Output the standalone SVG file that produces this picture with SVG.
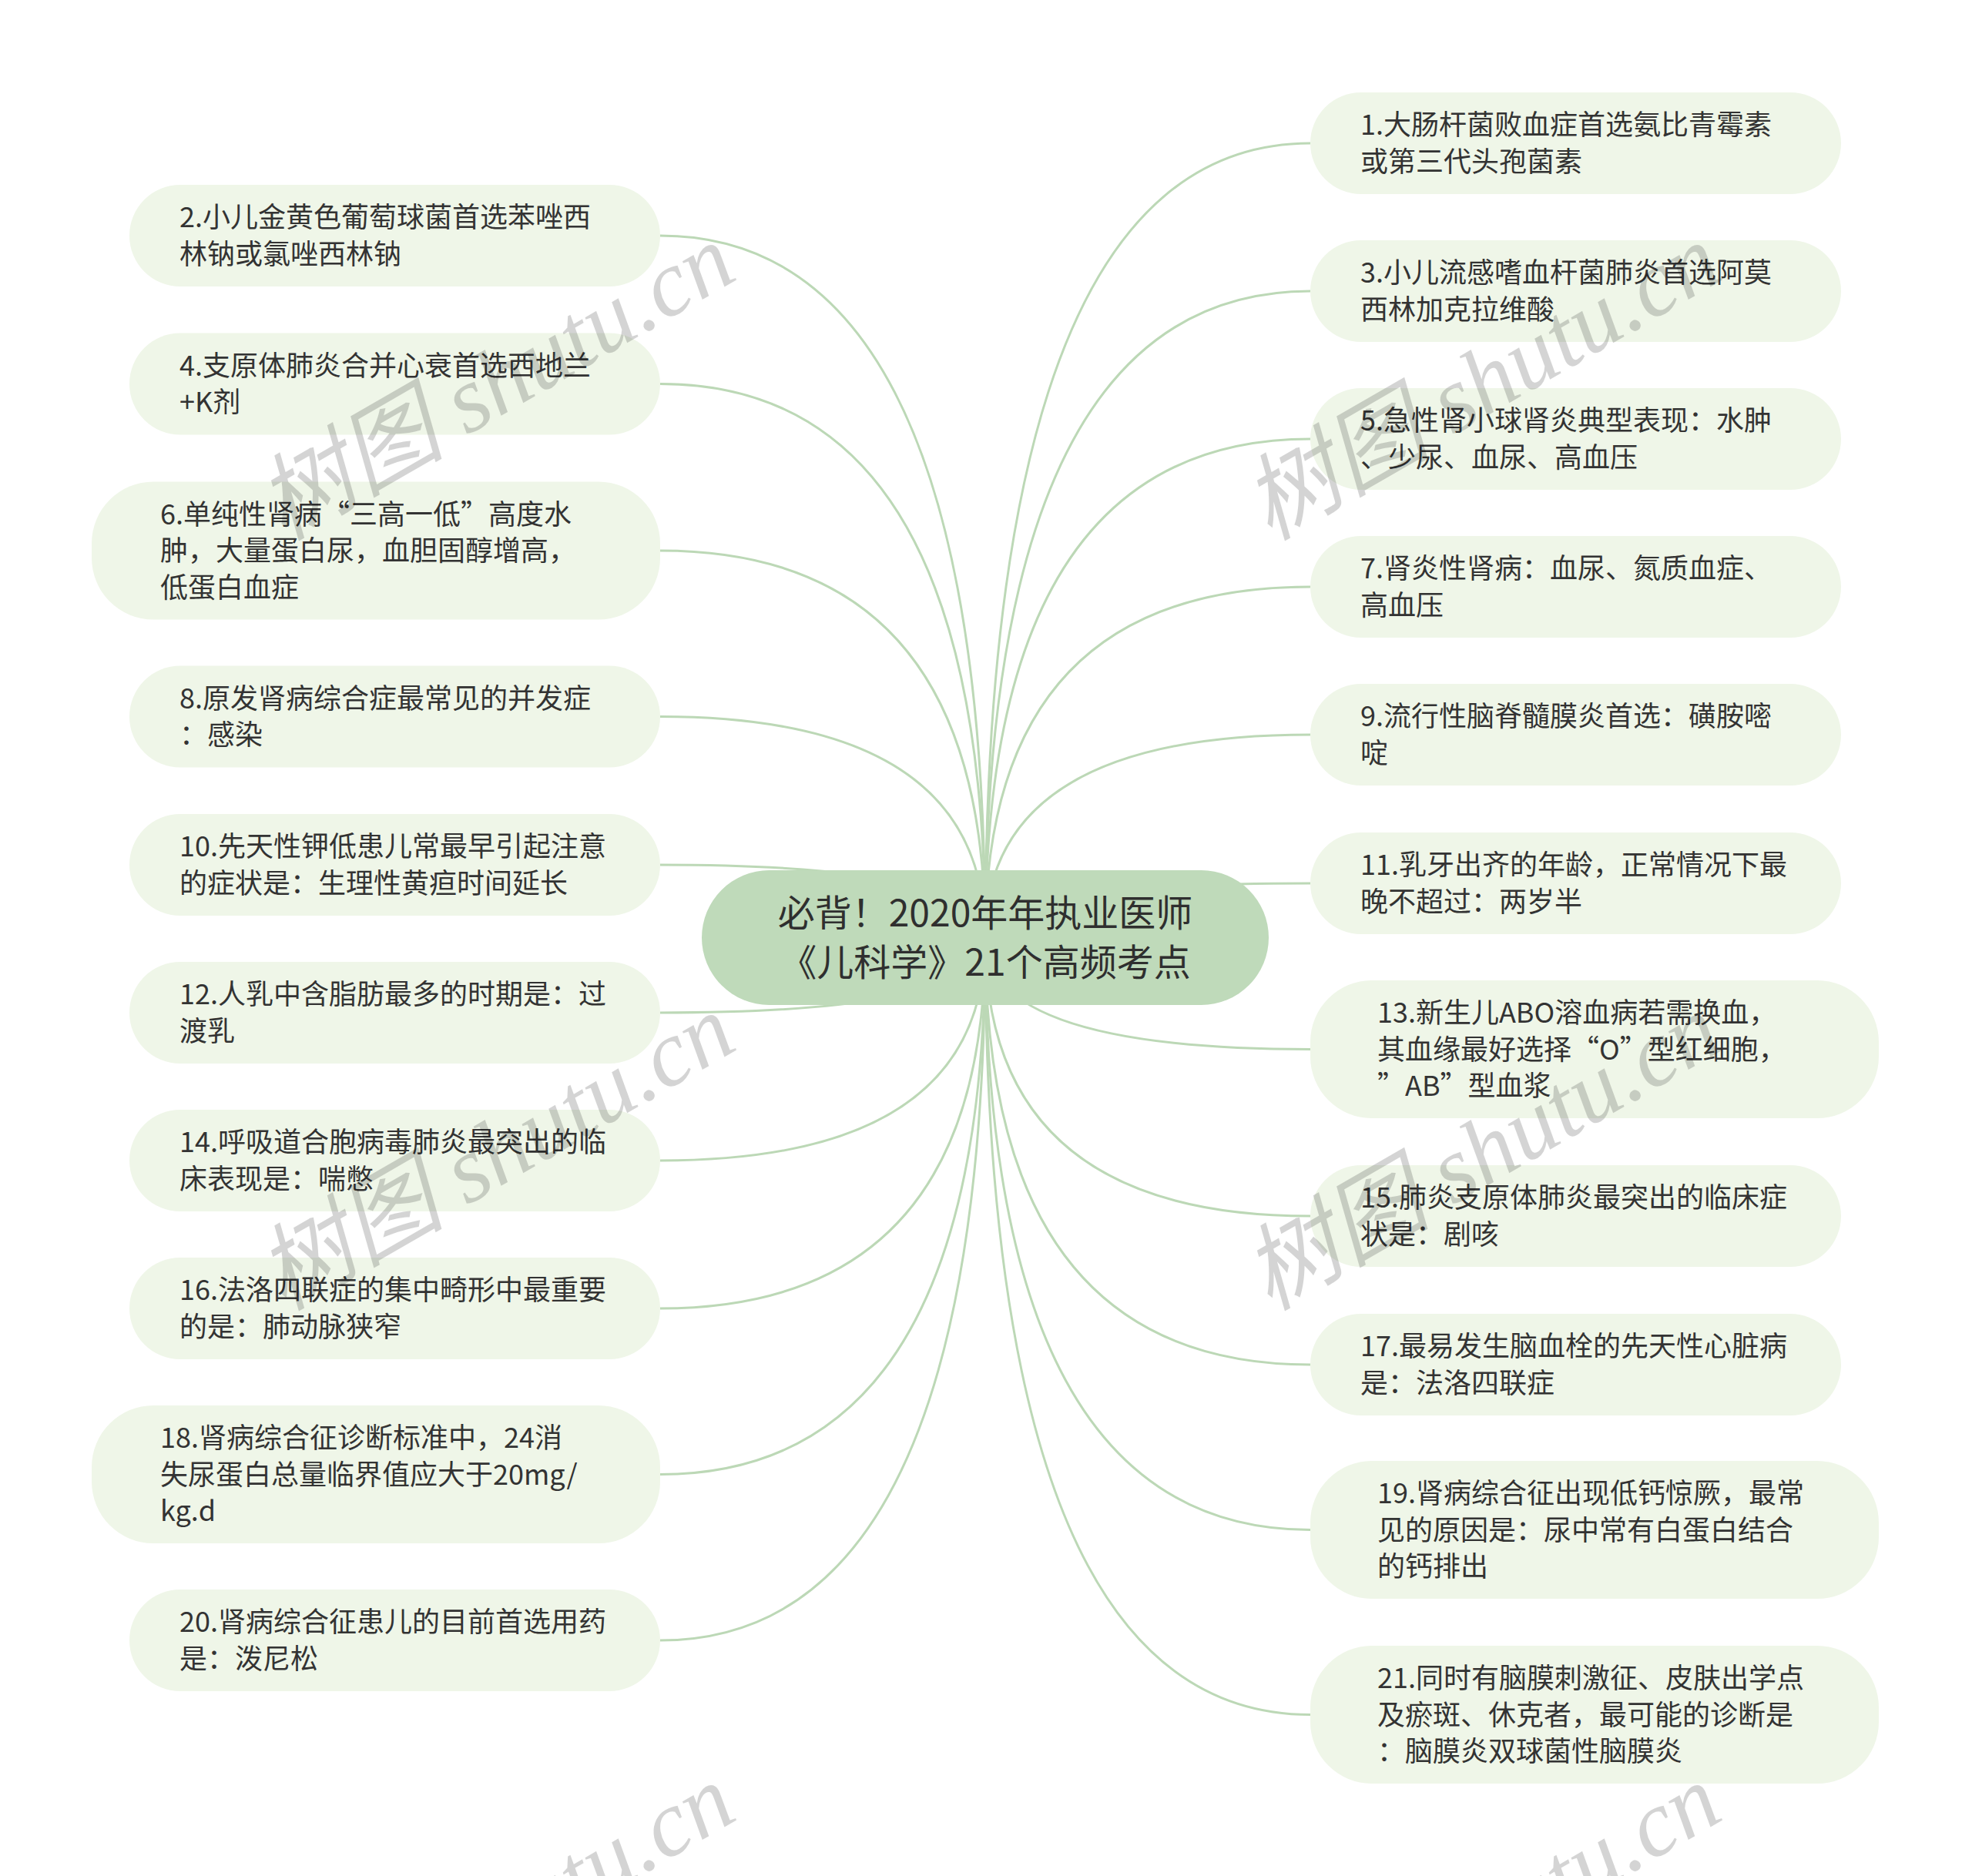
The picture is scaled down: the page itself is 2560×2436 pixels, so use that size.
<svg xmlns="http://www.w3.org/2000/svg" width="2560" height="2436" viewBox="0 0 2560 2436">
<style>
.bg{fill:#ffffff}
.n rect{fill:#eff6e8}
.c rect{fill:#bfdaba}
.t{font-family:"Noto Sans CJK SC","Noto Sans",sans-serif;font-size:36px;fill:#333333}
.ct{font-family:"Noto Sans CJK SC","Noto Sans",sans-serif;font-size:48px;fill:#2f2f2f;text-anchor:middle}
.e path{fill:none;stroke:#bcd8b6;stroke-width:3}
.wm{font-family:"Liberation Serif","Noto Sans CJK SC",serif;font-style:italic;font-size:122px;fill:#000000;fill-opacity:0.17}
</style>
<rect class="bg" x="0" y="0" width="2560" height="2436"/>
<g id="edges" class="e">
<path d="M1279 1218 Q1279 186 1701 186"/>
<path d="M1279 1218 Q1279 378 1701 378"/>
<path d="M1279 1218 Q1279 570 1701 570"/>
<path d="M1279 1218 Q1279 762 1701 762"/>
<path d="M1279 1218 Q1279 954 1701 954"/>
<path d="M1279 1218 Q1279 1147 1701 1147"/>
<path d="M1279 1218 Q1279 1362.5 1701 1362.5"/>
<path d="M1279 1218 Q1279 1579 1701 1579"/>
<path d="M1279 1218 Q1279 1772 1701 1772"/>
<path d="M1279 1218 Q1279 1986.5 1701 1986.5"/>
<path d="M1279 1218 Q1279 2226.5 1701 2226.5"/>
<path d="M1279 1218 Q1279 306 857 306"/>
<path d="M1279 1218 Q1279 498.5 857 498.5"/>
<path d="M1279 1218 Q1279 715 857 715"/>
<path d="M1279 1218 Q1279 930.5 857 930.5"/>
<path d="M1279 1218 Q1279 1123 857 1123"/>
<path d="M1279 1218 Q1279 1315 857 1315"/>
<path d="M1279 1218 Q1279 1507 857 1507"/>
<path d="M1279 1218 Q1279 1699 857 1699"/>
<path d="M1279 1218 Q1279 1914.5 857 1914.5"/>
<path d="M1279 1218 Q1279 2130 857 2130"/>
</g>
<g id="center" class="c">
<rect x="911" y="1130" width="736" height="175" rx="87.5"/>
<text class="ct" x="1279" y="1203">必背！2020年年执业医师</text>
<text class="ct" x="1279" y="1267">《儿科学》21个高频考点</text>
</g>
<g id="n1" class="n"><rect x="1701" y="120" width="689" height="132" rx="66"/>
<text class="t" x="1766" y="175">1.大肠杆菌败血症首选氨比青霉素</text><text class="t" x="1766" y="222.5">或第三代头孢菌素</text></g>
<g id="n3" class="n"><rect x="1701" y="312" width="689" height="132" rx="66"/>
<text class="t" x="1766" y="367">3.小儿流感嗜血杆菌肺炎首选阿莫</text><text class="t" x="1766" y="414.5">西林加克拉维酸</text></g>
<g id="n5" class="n"><rect x="1701" y="504" width="689" height="132" rx="66"/>
<text class="t" x="1766" y="559">5.急性肾小球肾炎典型表现：水肿</text><text class="t" x="1766" y="606.5">、少尿、血尿、高血压</text></g>
<g id="n7" class="n"><rect x="1701" y="696" width="689" height="132" rx="66"/>
<text class="t" x="1766" y="751">7.肾炎性肾病：血尿、氮质血症、</text><text class="t" x="1766" y="798.5">高血压</text></g>
<g id="n9" class="n"><rect x="1701" y="888" width="689" height="132" rx="66"/>
<text class="t" x="1766" y="943">9.流行性脑脊髓膜炎首选：磺胺嘧</text><text class="t" x="1766" y="990.5">啶</text></g>
<g id="n11" class="n"><rect x="1701" y="1081" width="689" height="132" rx="66"/>
<text class="t" x="1766" y="1136">11.乳牙出齐的年龄，正常情况下最</text><text class="t" x="1766" y="1183.5">晚不超过：两岁半</text></g>
<g id="n13" class="n"><rect x="1701" y="1273" width="738" height="179" rx="80"/>
<text class="t" x="1788" y="1328">13.新生儿ABO溶血病若需换血，</text><text class="t" x="1788" y="1375.5">其血缘最好选择“O”型红细胞，</text><text class="t" x="1788" y="1423">”AB”型血浆</text></g>
<g id="n15" class="n"><rect x="1701" y="1513" width="689" height="132" rx="66"/>
<text class="t" x="1766" y="1568">15.肺炎支原体肺炎最突出的临床症</text><text class="t" x="1766" y="1615.5">状是：剧咳</text></g>
<g id="n17" class="n"><rect x="1701" y="1706" width="689" height="132" rx="66"/>
<text class="t" x="1766" y="1761">17.最易发生脑血栓的先天性心脏病</text><text class="t" x="1766" y="1808.5">是：法洛四联症</text></g>
<g id="n19" class="n"><rect x="1701" y="1897" width="738" height="179" rx="80"/>
<text class="t" x="1788" y="1952">19.肾病综合征出现低钙惊厥，最常</text><text class="t" x="1788" y="1999.5">见的原因是：尿中常有白蛋白结合</text><text class="t" x="1788" y="2047">的钙排出</text></g>
<g id="n21" class="n"><rect x="1701" y="2137" width="738" height="179" rx="80"/>
<text class="t" x="1788" y="2192">21.同时有脑膜刺激征、皮肤出学点</text><text class="t" x="1788" y="2239.5">及瘀斑、休克者，最可能的诊断是</text><text class="t" x="1788" y="2287">：脑膜炎双球菌性脑膜炎</text></g>
<g id="n2" class="n"><rect x="168" y="240" width="689" height="132" rx="66"/>
<text class="t" x="233" y="295">2.小儿金黄色葡萄球菌首选苯唑西</text><text class="t" x="233" y="342.5">林钠或氯唑西林钠</text></g>
<g id="n4" class="n"><rect x="168" y="432.5" width="689" height="132" rx="66"/>
<text class="t" x="233" y="487.5">4.支原体肺炎合并心衰首选西地兰</text><text class="t" x="233" y="535">+K剂</text></g>
<g id="n6" class="n"><rect x="119" y="625.5" width="738" height="179" rx="80"/>
<text class="t" x="208" y="680.5">6.单纯性肾病“三高一低”高度水</text><text class="t" x="208" y="728">肿，大量蛋白尿，血胆固醇增高，</text><text class="t" x="208" y="775.5">低蛋白血症</text></g>
<g id="n8" class="n"><rect x="168" y="864.5" width="689" height="132" rx="66"/>
<text class="t" x="233" y="919.5">8.原发肾病综合症最常见的并发症</text><text class="t" x="233" y="967">：感染</text></g>
<g id="n10" class="n"><rect x="168" y="1057" width="689" height="132" rx="66"/>
<text class="t" x="233" y="1112">10.先天性钾低患儿常最早引起注意</text><text class="t" x="233" y="1159.5">的症状是：生理性黄疸时间延长</text></g>
<g id="n12" class="n"><rect x="168" y="1249" width="689" height="132" rx="66"/>
<text class="t" x="233" y="1304">12.人乳中含脂肪最多的时期是：过</text><text class="t" x="233" y="1351.5">渡乳</text></g>
<g id="n14" class="n"><rect x="168" y="1441" width="689" height="132" rx="66"/>
<text class="t" x="233" y="1496">14.呼吸道合胞病毒肺炎最突出的临</text><text class="t" x="233" y="1543.5">床表现是：喘憋</text></g>
<g id="n16" class="n"><rect x="168" y="1633" width="689" height="132" rx="66"/>
<text class="t" x="233" y="1688">16.法洛四联症的集中畸形中最重要</text><text class="t" x="233" y="1735.5">的是：肺动脉狭窄</text></g>
<g id="n18" class="n"><rect x="119" y="1825" width="738" height="179" rx="80"/>
<text class="t" x="208" y="1880">18.肾病综合征诊断标准中，24消</text><text class="t" x="208" y="1927.5">失尿蛋白总量临界值应大于20mg/</text><text class="t" x="208" y="1975">kg.d</text></g>
<g id="n20" class="n"><rect x="168" y="2064" width="689" height="132" rx="66"/>
<text class="t" x="233" y="2119">20.肾病综合征患儿的目前首选用药</text><text class="t" x="233" y="2166.5">是：泼尼松</text></g>
<g id="watermarks">
<text class="wm" transform="translate(368 703) rotate(-30)">树图 shutu.cn</text>
<text class="wm" transform="translate(368 1703) rotate(-30)">树图 shutu.cn</text>
<text class="wm" transform="translate(368 2703) rotate(-30)">树图 shutu.cn</text>
<text class="wm" transform="translate(1648 703) rotate(-30)">树图 shutu.cn</text>
<text class="wm" transform="translate(1648 1703) rotate(-30)">树图 shutu.cn</text>
<text class="wm" transform="translate(1648 2703) rotate(-30)">树图 shutu.cn</text>
</g>
</svg>
